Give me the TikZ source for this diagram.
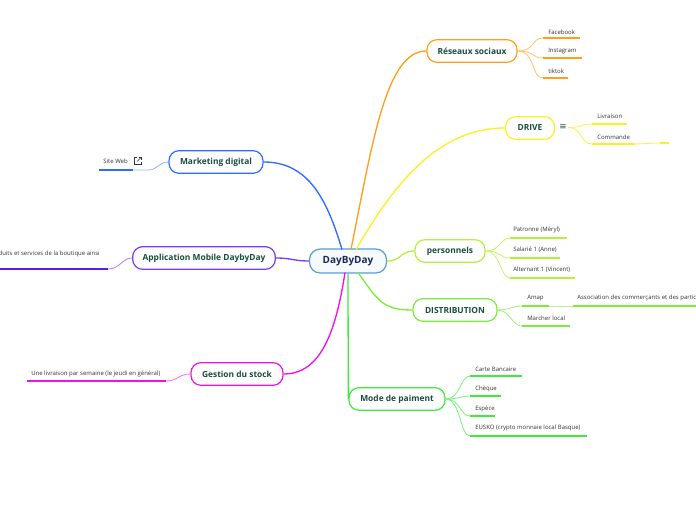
\documentclass[tikz,border=0pt]{standalone}
\usepackage{fontspec}
\setmainfont{Open Sans}
\newfontfamily\symfont{DejaVu Sans}
\usetikzlibrary{calc}
\definecolor{titlec}{HTML}{1B4D3E}
\definecolor{navy}{HTML}{1B2B5B}
\definecolor{subc}{HTML}{333333}
\definecolor{cblue}{HTML}{5B9BD5}
\definecolor{corange}{HTML}{FF9F1C}
\definecolor{cyellow}{HTML}{FFEE22}
\definecolor{cmk}{HTML}{2F6BFF}
\definecolor{cpurple}{HTML}{7A3CF0}
\definecolor{cpurpleul}{HTML}{5A1EF0}
\definecolor{cmag}{HTML}{EE11EE}
\definecolor{cyg}{HTML}{B5F03C}
\definecolor{cgreen}{HTML}{7CEB3A}
\definecolor{cbright}{HTML}{3CEB3C}
\tikzset{
  topic/.style={draw=#1, line width=0.9pt, rounded corners=7.5pt, fill=white,
    minimum height=17pt, inner xsep=4pt, font=\bfseries\fontsize{6.3}{8}\selectfont, text=titlec},
  leaf/.style={anchor=west, inner sep=0pt, font=\fontsize{4.5}{6}\selectfont, text=subc},
  branch/.style={draw=#1, line width=1pt},
  twig/.style={draw=#1, line width=0.65pt},
  uline/.style={draw=#1, line width=1.5pt}
}
\begin{document}
\begin{tikzpicture}[x=0.75pt,y=-0.75pt]
\useasboundingbox (0,0) rectangle (696,520);

% central node
\node[draw=cblue, line width=0.9pt, rounded corners=8pt, fill=cblue!5, minimum width=57.75pt,
  minimum height=18pt, font=\bfseries\fontsize{7.5}{9}\selectfont, text=navy] (c) at (348,261) {DayByDay};

% main topics
\node[topic=corange, minimum width=67.5pt] (rs) at (472,51) {Réseaux sociaux};
\node[topic=cyellow, minimum width=36.75pt] (drv) at (530,128) {DRIVE};
\node[topic=cmk, minimum width=70.5pt] (mk) at (216,162) {Marketing digital};
\node[topic=cpurple, minimum width=107pt] (app) at (204,258) {Application Mobile DaybyDay};
\node[topic=cmag, minimum width=69pt] (gs) at (237,374) {Gestion du stock};
\node[topic=cyg, minimum width=52.5pt] (pe) at (450,251) {personnels};
\node[topic=cgreen, minimum width=63pt] (di) at (455,310) {DISTRIBUTION};
\node[topic=cbright, minimum width=72pt] (mp) at (397,399) {Mode de paiment};

% center connectors
\coordinate (c1) at (342,249.5);
\coordinate (c2) at (351,249.5);
\coordinate (c3) at (356,249.5);
\coordinate (c4) at (358,272.5);
\coordinate (c5) at (345,272.5);
\draw[branch=cmk] (c1) .. controls +(-15,-50) and +(45,0) .. (mk.east);
\draw[branch=corange] (c2) .. controls +(22,-110) and +(-40,0) .. (rs.west);
\draw[branch=cyellow] (c3) .. controls +(35,-60) and +(-70,0) .. (drv.west);
\draw[branch=cyg] (c.east) .. controls +(15,0) and +(-15,0) .. (pe.west);
\draw[branch=cgreen] (c4) .. controls +(20,28) and +(-30,0) .. (di.west);
\draw[branch=cbright] (c.south) .. controls +(0,60) and +(0,-40) .. (mp.west);
\draw[branch=cmag] (c5) .. controls +(-10,65) and +(35,0) .. (gs.east);
\draw[branch=cpurple] (c.west) .. controls +(-15,0) and +(15,0) .. (app.east);

% Réseaux sociaux leaves
\node[leaf] (fb) at (548,32) {Facebook};
\node[leaf] (ig) at (548,51) {Instagram};
\node[leaf] (tt) at (548,71) {tiktok};
\coordinate (fbA) at (543,38); \coordinate (fbB) at (580,38);
\coordinate (igA) at (543,58); \coordinate (igB) at (582,58);
\coordinate (ttA) at (543,78); \coordinate (ttB) at (568,78);
\foreach \a/\b in {fbA/fbB,igA/igB,ttA/ttB}{
  \draw[twig=corange!60] (rs.east) .. controls +(18,0) and +(-12,0) .. (\a);
  \draw[uline=corange] (\a) -- (\b);
}

% DRIVE leaves
\node[font=\symfont\fontsize{6.5}{7}\selectfont, text=titlec, inner sep=1pt] (eq) at (563,127.5) {≡};
\node[leaf] (lv) at (597,116) {Livraison};
\node[leaf] (cm) at (597,137) {Commande};
\coordinate (lvA) at (592,124); \coordinate (lvB) at (627,124);
\coordinate (cmA) at (592,144); \coordinate (cmB) at (635,144);
\coordinate (emA) at (660,143); \coordinate (emB) at (669,143);
\foreach \a/\b in {lvA/lvB,cmA/cmB}{
  \draw[twig=cyellow!80] (eq.east) .. controls +(15,0) and +(-12,0) .. (\a);
  \draw[uline=cyellow] (\a) -- (\b);
}
\draw[twig=cyellow!80] (cmB) .. controls +(12,0) and +(-12,0) .. (emA);
\draw[uline=cyellow] (emA) -- (emB);

% Marketing digital leaf
\node[leaf, anchor=east] (sw) at (128,161) {Site Web};
\coordinate (swA) at (99,170); \coordinate (swB) at (133,170);
\draw[uline=cmk] (swA) -- (swB);
\draw[twig=cmk!50] (swB) -- (148,170) .. controls +(10,0) and +(-10,0) .. (mk.west);
% external link icon
\begin{scope}[line width=0.45pt, draw=subc]
  \draw (136.5,157.5) -- (134,157.5) -- (134,164.5) -- (141,164.5) -- (141,162);
  \draw (137,161.5) -- (141,157.5);
  \draw (138.5,157.5) -- (141,157.5) -- (141,160);
\end{scope}

% Application leaf
\node[leaf, anchor=east] (ap) at (100,253.5) {duits et services de la boutique ainsi};
\coordinate (apA) at (0,269); \coordinate (apB) at (108,269);
\draw[uline=cpurpleul] (apA) -- (apB);
\draw[twig=cpurple!60] (apB) .. controls +(12,0) and +(-10,0) .. (app.west);

% Gestion leaf
\node[leaf] (lvs) at (31,374) {Une livraison par semaine (le jeudi en général)};
\coordinate (lsA) at (27,381); \coordinate (lsB) at (166,381);
\draw[uline=cmag] (lsA) -- (lsB);
\draw[twig=cmag!60] (lsB) .. controls +(12,0) and +(-12,0) .. (gs.west);

% personnels leaves
\node[leaf] (p1) at (513,230) {Patronne (Méryl)};
\node[leaf] (p2) at (513,250) {Salarié 1 (Anne)};
\node[leaf] (p3) at (513,270) {Alternant 1 (Vincent)};
\coordinate (p1A) at (510,238); \coordinate (p1B) at (567,238);
\coordinate (p2A) at (510,258); \coordinate (p2B) at (560,258);
\coordinate (p3A) at (510,278); \coordinate (p3B) at (575,278);
\foreach \a/\b in {p1A/p1B,p2A/p2B,p3A/p3B}{
  \draw[twig=cyg!75] (pe.east) .. controls +(15,0) and +(-10,0) .. (\a);
  \draw[uline=cyg] (\a) -- (\b);
}

% DISTRIBUTION leaves
\node[leaf] (am) at (527,298) {Amap};
\node[leaf] (ml) at (527,318) {Marcher local};
\node[leaf] (as) at (577,298) {Association des commerçants et des partic};
\coordinate (amA) at (522,306); \coordinate (amB) at (549,306);
\coordinate (mlA) at (522,326); \coordinate (mlB) at (570,326);
\coordinate (asA) at (573,306); \coordinate (asB) at (696,306);
\foreach \a/\b in {amA/amB,mlA/mlB}{
  \draw[twig=cgreen!70] (di.east) .. controls +(12,0) and +(-10,0) .. (\a);
  \draw[uline=cgreen] (\a) -- (\b);
}
\draw[twig=cgreen!55] (amB) -- (asA);
\draw[uline=cgreen] (asA) -- (asB);

% Mode de paiment leaves
\node[leaf] (cb) at (475,369) {Carte Bancaire};
\node[leaf] (ch) at (475,389) {Chèque};
\node[leaf] (es) at (475,409) {Espèce};
\node[leaf] (eu) at (475,428) {EUSKO (crypto monnaie local Basque)};
\coordinate (cbA) at (470,376); \coordinate (cbB) at (522,376);
\coordinate (chA) at (470,396); \coordinate (chB) at (501,396);
\coordinate (esA) at (470,416); \coordinate (esB) at (495,416);
\coordinate (euA) at (470,436); \coordinate (euB) at (587,436);
\foreach \a/\b in {cbA/cbB,chA/chB,esA/esB,euA/euB}{
  \draw[twig=cbright!65] (mp.east) .. controls +(15,0) and +(-10,0) .. (\a);
  \draw[uline=cbright] (\a) -- (\b);
}
\end{tikzpicture}
\end{document}
